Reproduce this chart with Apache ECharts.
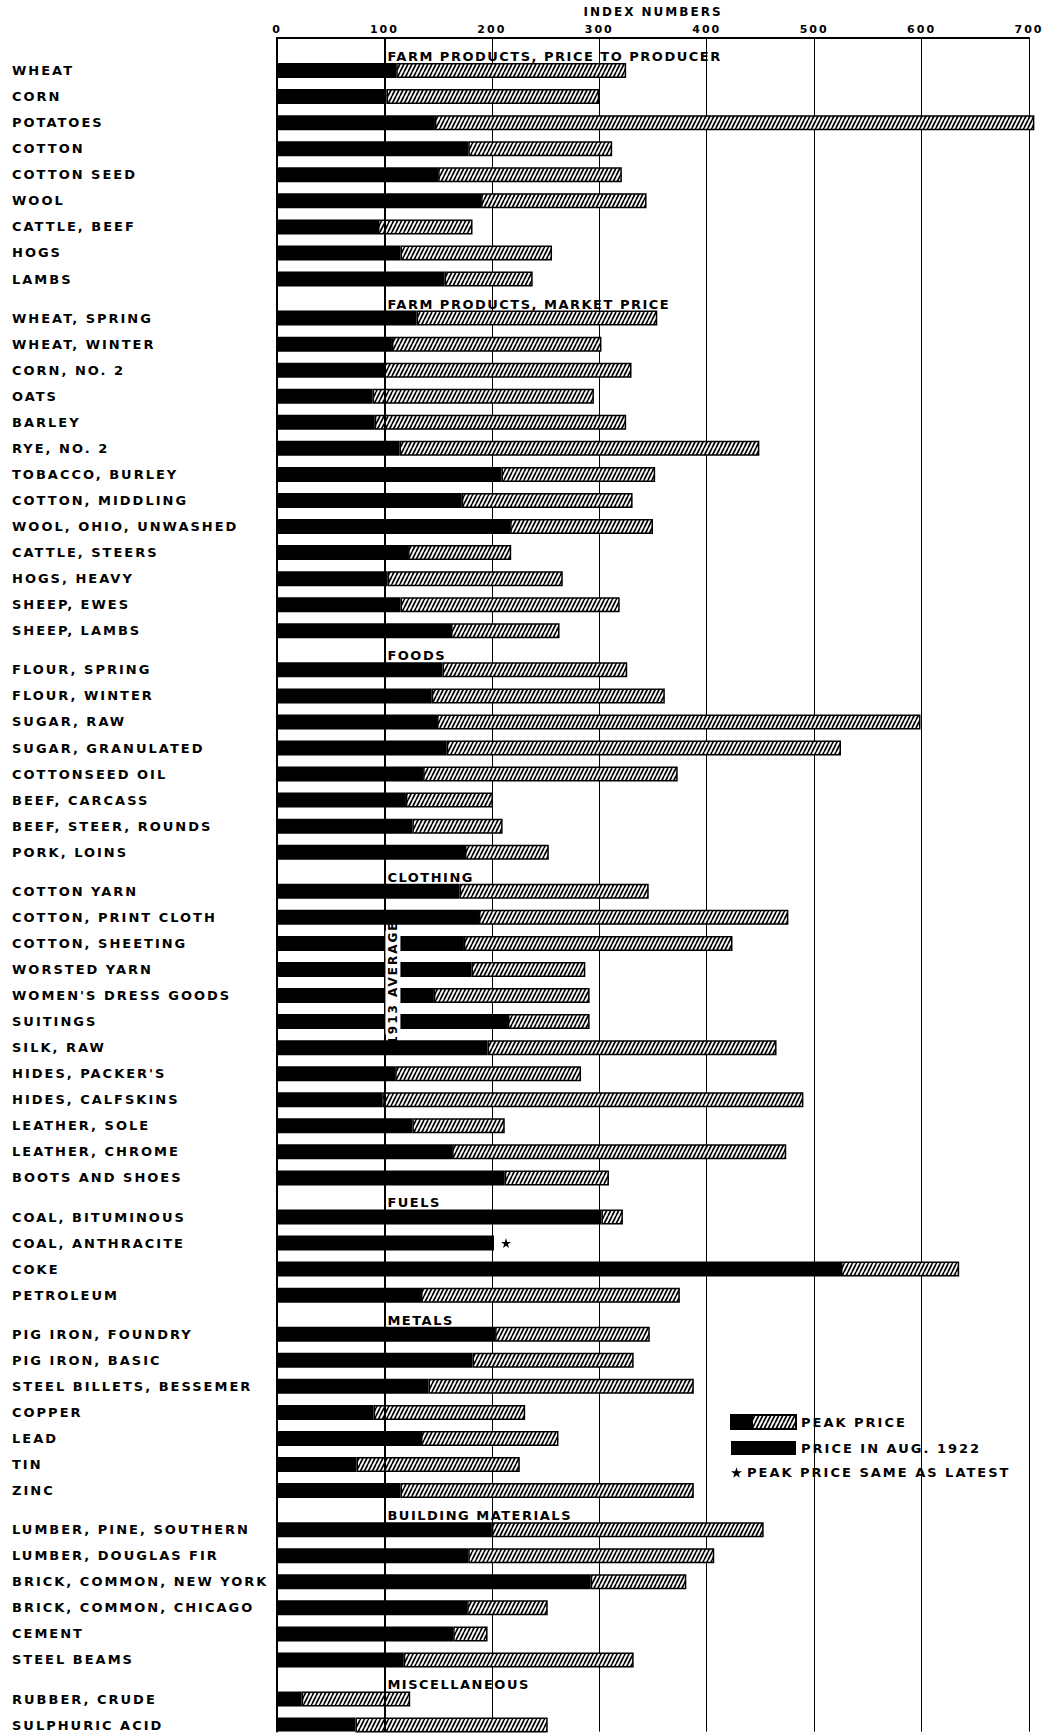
<!DOCTYPE html>
<html>
<head>
<meta charset="utf-8">
<script src="https://cdn.jsdelivr.net/npm/echarts@6/dist/echarts.min.js"></script>
<style>
html,body{margin:0;padding:0;background:#fff;}
#chart{width:1045px;height:1733px;}
#chart text{letter-spacing:2px;}
#chart text[style*="sans-serif"]{letter-spacing:1.5px;}
</style>
</head>
<body>
<div id="chart"></div>
<script>
// ---------- DATA ----------
const indexTicks = [0, 100, 200, 300, 400, 500, 600, 700];
const baseIndex = 100; // 1913 average

const sectionNames = [
  'FARM PRODUCTS, PRICE TO PRODUCER',
  'FARM PRODUCTS, MARKET PRICE',
  'FOODS',
  'CLOTHING',
  'FUELS',
  'METALS',
  'BUILDING MATERIALS',
  'MISCELLANEOUS'
];

const farmProducerItems = ['WHEAT', 'CORN', 'POTATOES', 'COTTON', 'COTTON SEED', 'WOOL', 'CATTLE, BEEF', 'HOGS', 'LAMBS'];
const farmProducerNow   = [111, 102, 147, 178, 150, 190, 94, 115, 156];
const farmProducerPeak  = [325, 300, 705, 312, 321, 344, 182, 256, 238];

const farmMarketItems = ['WHEAT, SPRING', 'WHEAT, WINTER', 'CORN, NO. 2', 'OATS', 'BARLEY', 'RYE, NO. 2', 'TOBACCO, BURLEY', 'COTTON, MIDDLING', 'WOOL, OHIO, UNWASHED', 'CATTLE, STEERS', 'HOGS, HEAVY', 'SHEEP, EWES', 'SHEEP, LAMBS'];
const farmMarketNow   = [130, 107, 100, 89, 91, 114, 209, 172, 217, 122, 103, 115, 162];
const farmMarketPeak  = [354, 302, 330, 295, 325, 449, 352, 331, 350, 218, 266, 319, 263];

const foodItems = ['FLOUR, SPRING', 'FLOUR, WINTER', 'SUGAR, RAW', 'SUGAR, GRANULATED', 'COTTONSEED OIL', 'BEEF, CARCASS', 'BEEF, STEER, ROUNDS', 'PORK, LOINS'];
const foodNow   = [154, 144, 149, 158, 136, 120, 126, 175];
const foodPeak  = [326, 361, 599, 525, 373, 201, 210, 253];

const clothingItems = ['COTTON YARN', 'COTTON, PRINT CLOTH', 'COTTON, SHEETING', 'WORSTED YARN', "WOMEN'S DRESS GOODS", 'SUITINGS', 'SILK, RAW', "HIDES, PACKER'S", 'HIDES, CALFSKINS', 'LEATHER, SOLE', 'LEATHER, CHROME', 'BOOTS AND SHOES'];
const clothingNow   = [170, 188, 174, 181, 146, 215, 196, 110, 98, 126, 163, 212];
const clothingPeak  = [346, 476, 424, 287, 291, 291, 465, 283, 490, 212, 474, 309];

const fuelItems = ['COAL, BITUMINOUS', 'COAL, ANTHRACITE', 'COKE', 'PETROLEUM'];
const fuelNow   = [302, 202, 525, 134];
const fuelPeak  = [322, 202, 635, 375];

const metalItems = ['PIG IRON, FOUNDRY', 'PIG IRON, BASIC', 'STEEL BILLETS, BESSEMER', 'COPPER', 'LEAD', 'TIN', 'ZINC'];
const metalNow   = [203, 182, 141, 90, 134, 74, 115];
const metalPeak  = [347, 332, 388, 231, 262, 226, 388];

const buildingItems = ['LUMBER, PINE, SOUTHERN', 'LUMBER, DOUGLAS FIR', 'BRICK, COMMON, NEW YORK', 'BRICK, COMMON, CHICAGO', 'CEMENT', 'STEEL BEAMS'];
const buildingNow   = [200, 178, 292, 177, 164, 118];
const buildingPeak  = [453, 407, 381, 252, 196, 332];

const miscItems = ['RUBBER, CRUDE', 'SULPHURIC ACID'];
const miscNow   = [23, 73];
const miscPeak  = [124, 252];

const legendNames = ['PEAK PRICE', 'PRICE IN AUG. 1922', 'PEAK PRICE SAME AS LATEST'];
const axisTitle = 'INDEX NUMBERS';
const averageLabel = '1913 AVERAGE';

// ---------- BUILD ----------
const sections = [
  [farmProducerItems, farmProducerNow, farmProducerPeak],
  [farmMarketItems, farmMarketNow, farmMarketPeak],
  [foodItems, foodNow, foodPeak],
  [clothingItems, clothingNow, clothingPeak],
  [fuelItems, fuelNow, fuelPeak],
  [metalItems, metalNow, metalPeak],
  [buildingItems, buildingNow, buildingPeak],
  [miscItems, miscNow, miscPeak]
];

// Each item takes two half-row slots (a blank half-row then the item); a section title takes one half-row.
const categories = [], nowData = [], diffData = [], headerData = [], starData = [];
const itemNames = {};
sections.forEach(function (s, si) {
  const title = sectionNames[si];
  categories.push(title);
  nowData.push('-');
  diffData.push('-');
  headerData.push([baseIndex, title]);
  s[0].forEach(function (name, i) {
    categories.push('gap#' + categories.length);
    nowData.push('-');
    diffData.push('-');
    categories.push(name);
    itemNames[name] = true;
    nowData.push(s[1][i]);
    const d = s[2][i] - s[1][i];
    diffData.push(d > 0 ? d : '-');
    if (d === 0) starData.push([s[1][i], name]);
  });
});

// hatch pattern
const tile = document.createElement('canvas');
tile.width = 4; tile.height = 8;
const tc = tile.getContext('2d');
tc.fillStyle = '#fff'; tc.fillRect(0, 0, 4, 8);
tc.strokeStyle = '#000'; tc.lineWidth = 1.7;
for (let k = -1; k <= 1; k++) {
  tc.beginPath(); tc.moveTo(k * 4, 8); tc.lineTo(k * 4 + 4, 0); tc.stroke();
}
const hatch = { image: tile, repeat: 'repeat', imageWidth: 4, imageHeight: 8 };

const FONT = 'DejaVu Sans';
const HEADER_FONT = 'DejaVu Sans, sans-serif';
const starPath = 'path://M50,0 L61,35 L98,35 L68,57 L79,91 L50,70 L21,91 L32,57 L2,35 L39,35 Z';

const chart = echarts.init(document.getElementById('chart'), null, { renderer: 'svg' });
chart.setOption({
  animation: false,
  backgroundColor: '#fff',
  grid: { left: 277, right: 16, top: 38, height: 1693.6, containLabel: false, outerBoundsMode: 'none' },
  xAxis: {
    type: 'value', position: 'top',
    min: indexTicks[0], max: indexTicks[indexTicks.length - 1], interval: indexTicks[1] - indexTicks[0],
    name: axisTitle, nameLocation: 'middle', nameGap: 20,
    nameTextStyle: { fontFamily: FONT, fontSize: 12, fontWeight: 'bold', color: '#000' },
    axisLine: { show: true, lineStyle: { color: '#000', width: 2 } },
    axisTick: { show: false },
    axisLabel: { show: true, color: '#000', fontFamily: FONT, fontSize: 11, fontWeight: 'bold', margin: 3, showMinLabel: true, showMaxLabel: true },
    splitLine: { show: true, lineStyle: { color: '#000', width: 1 } }
  },
  yAxis: {
    type: 'category', inverse: true, data: categories,
    axisLine: { show: true, lineStyle: { color: '#000', width: 2 } },
    axisTick: { show: false },
    splitLine: { show: false },
    axisLabel: {
      interval: 0, align: 'left', margin: 265, color: '#000',
      fontFamily: FONT, fontSize: 13, fontWeight: 'bold',
      formatter: function (v) { return itemNames[v] ? v : ''; }
    }
  },
  legend: [
    {
      data: [legendNames[0], legendNames[1]], orient: 'vertical', left: 730, top: 1414, padding: 0,
      itemWidth: 65, itemHeight: 14, itemGap: 11, icon: 'rect', selectedMode: false,
      textStyle: { fontFamily: FONT, fontSize: 13, fontWeight: 'bold', color: '#000' }
    },
    {
      data: [{ name: legendNames[2], icon: starPath }], orient: 'vertical', left: 731, top: 1466, padding: 0,
      itemWidth: 11, itemHeight: 11, selectedMode: false,
      textStyle: { fontFamily: FONT, fontSize: 13, fontWeight: 'bold', color: '#000' }
    }
  ],
  graphic: [
    { type: 'rect', left: 730, top: 1414, z: 100, shape: { width: 23, height: 14 }, style: { fill: '#000' } }
  ],
  series: [
    {
      name: legendNames[1], type: 'bar', stack: 'price', barWidth: 15,
      data: nowData, itemStyle: { color: '#000' }, silent: true
    },
    {
      name: legendNames[0], type: 'bar', stack: 'price', barWidth: 15, clip: false,
      data: diffData, itemStyle: { color: hatch, borderColor: '#000', borderWidth: 1.5 }, silent: true
    },
    {
      name: 'sections', type: 'scatter', data: headerData, symbolSize: 0, z: 5, silent: true,
      itemStyle: { color: '#000', opacity: 1 },
      label: {
        show: true, position: 'right', distance: 3, offset: [0, 12], opacity: 1,
        formatter: function (p) { return p.value[1]; },
        fontFamily: HEADER_FONT, fontSize: 13, fontWeight: 'bold', color: '#000'
      },
      markLine: {
        silent: true, symbol: 'none', animation: false,
        label: { show: false },
        lineStyle: { color: '#000', width: 2, type: 'solid', opacity: 1 },
        data: [
          { xAxis: baseIndex },
          [
            { xAxis: baseIndex, yAxis: 'SUITINGS' },
            {
              xAxis: baseIndex, yAxis: 'COTTON, SHEETING',
              label: {
                show: true, formatter: averageLabel, position: 'insideMiddleBottom', distance: 1,
                backgroundColor: '#fff', padding: [2, 2, 1, 2],
                fontFamily: FONT, fontSize: 12, fontWeight: 'bold', color: '#000'
              }
            }
          ]
        ]
      }
    },
    {
      name: legendNames[2], type: 'scatter', data: starData, symbol: starPath,
      symbolSize: 10, symbolOffset: [12, 0], itemStyle: { color: '#000', opacity: 1 }, silent: true, z: 6
    }
  ]
});
</script>
</body>
</html>
